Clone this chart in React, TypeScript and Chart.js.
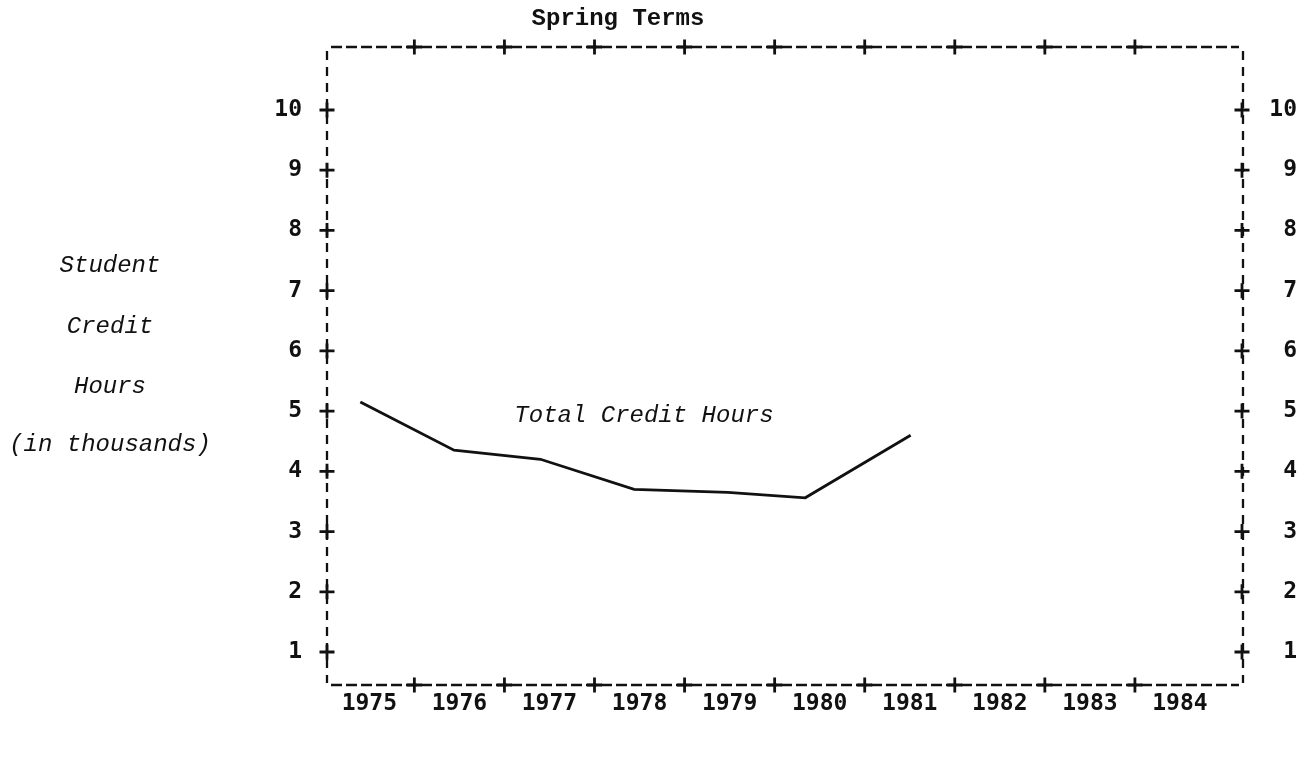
import React, { useEffect, useRef } from "react";
import { Chart, registerables } from "chart.js";

Chart.register(...registerables);

// ---- data ----
const yearLabels = [1975, 1976, 1977, 1978, 1979, 1980, 1981, 1982, 1983, 1984];
const xPlusMarks = [1975.5, 1976.5, 1977.5, 1978.5, 1979.5, 1980.5, 1981.5, 1982.5, 1983.5];
const yTickValues = [1, 2, 3, 4, 5, 6, 7, 8, 9, 10];
const pointYears = [1974.9, 1975.94, 1976.9, 1977.94, 1978.98, 1979.84, 1981.01];
const creditHours = [5.15, 4.35, 4.2, 3.7, 3.65, 3.56, 4.6];
const chartTitle = "Spring Terms";
const yCaption = ["Student", "Credit", "Hours", "(in thousands)"];
const seriesLabel = "Total Credit Hours";
const seriesLabelAt = { x: 1976.61, y: 4.93 };

const X_MIN = 1974.53;
const X_MAX = 1984.7;
const Y_MIN = 0.452;
const Y_MAX = 11.046;

const INK = "#111111";
const TICK_FONT = { family: "'DejaVu Sans Mono', monospace", size: 23, weight: "bold" as const };
const TYPE_FONT = "'Liberation Mono', 'DejaVu Sans Mono', monospace";

export default function App() {
  const ref = useRef<HTMLCanvasElement | null>(null);

  useEffect(() => {
    const canvas = ref.current;
    if (!canvas) return;

    const framePlugin = {
      id: "dashedFrame",
      beforeDatasetsDraw(chart: any) {
        const { ctx, chartArea: a } = chart;
        ctx.save();
        ctx.strokeStyle = INK;
        ctx.lineWidth = 2.3;
        // horizontal typed hyphens
        ctx.setLineDash([11, 4]);
        ctx.beginPath();
        ctx.moveTo(a.left + 4, a.top);
        ctx.lineTo(a.right - 4, a.top);
        ctx.moveTo(a.left + 4, a.bottom);
        ctx.lineTo(a.right - 4, a.bottom);
        ctx.stroke();
        // vertical typed colons
        ctx.setLineDash([9, 7]);
        ctx.beginPath();
        ctx.moveTo(a.left, a.top + 4);
        ctx.lineTo(a.left, a.bottom - 2);
        ctx.moveTo(a.right, a.top + 4);
        ctx.lineTo(a.right, a.bottom - 2);
        ctx.stroke();
        ctx.restore();
      },
    };

    const typewriterPlugin = {
      id: "typewriter",
      afterDraw(chart: any) {
        const { ctx, chartArea: a, scales } = chart;
        const xs = scales.x;
        const ys = scales.y;
        ctx.save();
        ctx.strokeStyle = INK;
        ctx.lineWidth = 2.8;
        ctx.lineCap = "butt";
        const plus = (px: number, py: number) => {
          ctx.beginPath();
          ctx.moveTo(px - 7.5, py);
          ctx.lineTo(px + 7.5, py);
          ctx.moveTo(px, py - 7.5);
          ctx.lineTo(px, py + 7.5);
          ctx.stroke();
        };
        yTickValues.forEach((v) => {
          const py = ys.getPixelForValue(v);
          plus(a.left, py);
          plus(a.right - 1, py);
        });
        xPlusMarks.forEach((v) => {
          const px = xs.getPixelForValue(v);
          plus(px, a.top);
          plus(px, a.bottom);
        });

        ctx.fillStyle = INK;
        ctx.textBaseline = "middle";
        // title
        ctx.font = `bold 24px ${TYPE_FONT}`;
        ctx.textAlign = "center";
        ctx.fillText(chartTitle, 618, 19);
        // y caption
        ctx.font = `italic 24px ${TYPE_FONT}`;
        const capY = [266, 327, 387, 445];
        yCaption.forEach((t, i) => ctx.fillText(t, 110, capY[i]));
        // series label
        ctx.textAlign = "left";
        ctx.fillText(
          seriesLabel,
          xs.getPixelForValue(seriesLabelAt.x),
          ys.getPixelForValue(seriesLabelAt.y)
        );
        ctx.restore();
      },
    };

    const chart = new Chart(canvas, {
      type: "line",
      data: {
        datasets: [
          {
            label: seriesLabel,
            data: pointYears.map((x, i) => ({ x, y: creditHours[i] })),
            borderColor: INK,
            borderWidth: 2.8,
            pointRadius: 0,
            tension: 0,
            fill: false,
          },
        ],
      },
      options: {
        responsive: false,
        animation: false,
        layout: { padding: { left: 0, right: 17, top: 0, bottom: 0 } },
        plugins: {
          legend: { display: false },
          title: { display: false },
          tooltip: { enabled: false },
        },
        scales: {
          x: {
            type: "linear",
            position: "bottom",
            min: X_MIN,
            max: X_MAX,
            afterBuildTicks: (s: any) => {
              s.ticks = yearLabels.map((v) => ({ value: v }));
            },
            afterFit: (s: any) => {
              s.height = 74;
            },
            ticks: {
              autoSkip: false,
              maxRotation: 0,
              padding: 5,
              color: INK,
              font: TICK_FONT,
              callback: (v: any) => String(v),
            },
            grid: { display: false, drawTicks: false },
            border: { display: false },
          },
          x2: {
            type: "linear",
            position: "top",
            min: X_MIN,
            max: X_MAX,
            afterFit: (s: any) => {
              s.height = 47;
            },
            ticks: { display: false },
            grid: { display: false, drawTicks: false },
            border: { display: false },
          },
          y: {
            type: "linear",
            position: "left",
            min: Y_MIN,
            max: Y_MAX,
            afterBuildTicks: (s: any) => {
              s.ticks = yTickValues.map((v) => ({ value: v }));
            },
            afterFit: (s: any) => {
              s.width = 327;
            },
            ticks: {
              padding: 25,
              color: INK,
              font: TICK_FONT,
              callback: (v: any) => String(v),
            },
            grid: { display: false, drawTicks: false },
            border: { display: false },
          },
          y2: {
            type: "linear",
            position: "right",
            min: Y_MIN,
            max: Y_MAX,
            afterBuildTicks: (s: any) => {
              s.ticks = yTickValues.map((v) => ({ value: v }));
            },
            afterFit: (s: any) => {
              s.width = 54;
            },
            ticks: {
              padding: 26,
              crossAlign: "far",
              color: INK,
              font: TICK_FONT,
              callback: (v: any) => String(v),
            },
            grid: { display: false, drawTicks: false },
            border: { display: false },
          },
        },
      },
      plugins: [framePlugin, typewriterPlugin],
    } as any);

    return () => chart.destroy();
  }, []);

  return (
    <div style={{ position: "absolute", left: 0, top: 0, width: 1314, height: 759, background: "#fff" }}>
      <canvas ref={ref} width={1314} height={759} style={{ display: "block" }} />
    </div>
  );
}
